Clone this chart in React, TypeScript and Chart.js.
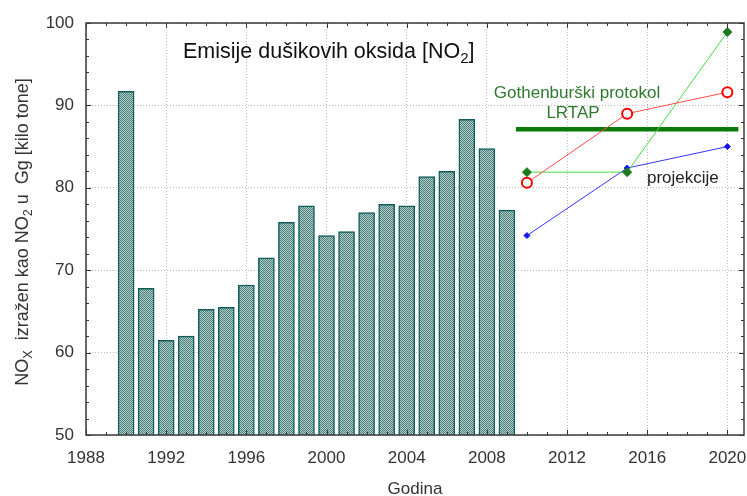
import React, { useEffect, useRef } from "react";
import { Chart, registerables } from "chart.js";

Chart.register(...registerables);

// ---- data ----
const histYears = [1990, 1991, 1992, 1993, 1994, 1995, 1996, 1997, 1998, 1999, 2000, 2001, 2002, 2003, 2004, 2005, 2006, 2007, 2008, 2009];
const histValues = [91.7, 67.8, 61.5, 62.0, 65.25, 65.5, 68.2, 71.5, 75.8, 77.8, 74.2, 74.7, 77.0, 78.0, 77.8, 81.35, 82.0, 88.3, 84.75, 77.3];
const projYears = [2010, 2015, 2020];
const projRed = [80.6, 89.0, 91.6];
const projGreen = [81.9, 81.9, 98.9];
const projBlue = [74.2, 82.4, 85.0];
const protocolYears = [2009.45, 2020.55];
const protocolLevel = 87.1;
const xTicks = [1988, 1992, 1996, 2000, 2004, 2008, 2012, 2016, 2020];
const yTicks = [50, 60, 70, 80, 90, 100];
const xMinorStep = 1;
const yMinorStep = 2;

const FONT = '"Liberation Sans", Arial, sans-serif';

type Part = { t: string; sub?: boolean };

function drawRich(ctx: CanvasRenderingContext2D, parts: Part[], x: number, y: number, size: number, align: "left" | "center") {
  const widths = parts.map((p) => {
    ctx.font = `${p.sub ? size * 0.7 : size}px ${FONT}`;
    return ctx.measureText(p.t).width;
  });
  const total = widths.reduce((a, b) => a + b, 0);
  let cx = align === "center" ? x - total / 2 : x;
  ctx.textAlign = "left";
  ctx.textBaseline = "alphabetic";
  parts.forEach((p, i) => {
    ctx.font = `${p.sub ? size * 0.7 : size}px ${FONT}`;
    ctx.fillText(p.t, cx, p.sub ? y + size * 0.22 : y);
    cx += widths[i];
  });
}

const framePlugin = {
  id: "frameAndText",
  afterDatasetsDraw(chart: any) {
    const { ctx, chartArea: a, scales } = chart;
    const xs = scales.x;
    const ys = scales.y;
    ctx.save();
    ctx.strokeStyle = "#333";
    ctx.lineWidth = 1;
    ctx.beginPath();
    for (let v = Math.ceil(xs.min); v <= xs.max; v += xMinorStep) {
      const px = Math.round(xs.getPixelForValue(v)) + 0.5;
      const len = v % 4 === 0 ? 5 : 3;
      ctx.moveTo(px, a.bottom);
      ctx.lineTo(px, a.bottom - len);
      ctx.moveTo(px, a.top);
      ctx.lineTo(px, a.top + len);
    }
    for (let v = ys.min; v <= ys.max; v += yMinorStep) {
      const py = Math.round(ys.getPixelForValue(v)) + 0.5;
      const len = v % 10 === 0 ? 5 : 3;
      ctx.moveTo(a.left, py);
      ctx.lineTo(a.left + len, py);
      ctx.moveTo(a.right, py);
      ctx.lineTo(a.right - len, py);
    }
    ctx.stroke();
    ctx.strokeStyle = "#3a3a3a";
    ctx.lineWidth = 1.5;
    ctx.strokeRect(a.left, a.top, a.right - a.left, a.bottom - a.top);
    ctx.restore();
  },
  afterDraw(chart: any) {
    const { ctx, chartArea: a } = chart;
    ctx.save();
    ctx.fillStyle = "#111";
    drawRich(ctx, [{ t: "Emisije dušikovih oksida [NO" }, { t: "2", sub: true }, { t: "]" }], 183, 58, 21.5, "left");
    ctx.fillStyle = "#2f7a2f";
    drawRich(ctx, [{ t: "Gothenburški protokol" }], 577, 98, 17, "center");
    drawRich(ctx, [{ t: "LRTAP" }], 573, 118, 17, "center");
    ctx.fillStyle = "#222";
    drawRich(ctx, [{ t: "projekcije" }], 647, 183, 17, "left");
    ctx.fillStyle = "#333";
    drawRich(ctx, [{ t: "Godina" }], (a.left + a.right) / 2, 494, 17, "center");
    ctx.translate(28, (a.top + a.bottom) / 2 + 3);
    ctx.rotate(-Math.PI / 2);
    drawRich(
      ctx,
      [
        { t: "NO" },
        { t: "X", sub: true },
        { t: "  izražen kao NO" },
        { t: "2", sub: true },
        { t: " u  Gg [kilo tone]" },
      ],
      0,
      0,
      18,
      "center"
    );
    ctx.restore();
  },
};

function makePattern(): CanvasPattern | string {
  const c = document.createElement("canvas");
  c.width = 2;
  c.height = 2;
  const g = c.getContext("2d");
  if (!g) return "#7fa5a2";
  g.fillStyle = "#b6ccc8";
  g.fillRect(0, 0, 2, 2);
  g.fillStyle = "#4a807c";
  g.fillRect(0, 0, 1, 1);
  g.fillRect(1, 1, 1, 1);
  const p = g.createPattern(c, "repeat");
  return p || "#7fa5a2";
}

export default function App() {
  const ref = useRef<HTMLCanvasElement | null>(null);

  useEffect(() => {
    document.body.style.margin = "0";
    const canvas = ref.current;
    if (!canvas) return;
    const pattern = makePattern();
    const chart = new Chart(canvas, {
      type: "bar",
      data: {
        datasets: [
          {
            type: "bar",
            data: histYears.map((x, i) => ({ x, y: histValues[i] })),
            backgroundColor: pattern as any,
            borderColor: "#0d5e5b",
            borderWidth: 1.5,
            barThickness: 16,
            order: 5,
          } as any,
          {
            type: "line",
            data: protocolYears.map((x) => ({ x, y: protocolLevel })),
            borderColor: "#0a7a0a",
            borderWidth: 4.5,
            pointRadius: 0,
            order: 4,
          },
          {
            type: "line",
            data: projYears.map((x, i) => ({ x, y: projBlue[i] })),
            borderColor: "#3535ff",
            borderWidth: 1,
            pointStyle: "rectRot",
            pointRadius: 3,
            pointBackgroundColor: "#1515ee",
            pointBorderColor: "#1515ee",
            order: 3,
          },
          {
            type: "line",
            data: projYears.map((x, i) => ({ x, y: projGreen[i] })),
            borderColor: "#44dd44",
            borderWidth: 1,
            pointStyle: "rectRot",
            pointRadius: 4.5,
            pointBackgroundColor: "#1c7a1c",
            pointBorderColor: "#1c7a1c",
            order: 2,
          },
          {
            type: "line",
            data: projYears.map((x, i) => ({ x, y: projRed[i] })),
            borderColor: "#ff4a4a",
            borderWidth: 1,
            pointStyle: "circle",
            pointRadius: 5,
            pointBorderWidth: 2,
            pointBackgroundColor: "#ffffff",
            pointBorderColor: "#ff0000",
            order: 1,
          },
        ],
      },
      options: {
        responsive: false,
        animation: false,
        events: [],
        layout: { autoPadding: false, padding: { left: 0, right: 3, top: 23, bottom: 0 } },
        plugins: { legend: { display: false }, tooltip: { enabled: false } },
        scales: {
          x: {
            type: "linear",
            min: 1988,
            max: 2020.83,
            offset: false,
            grid: { offset: false, color: "#b8b8b8", lineWidth: 1, drawTicks: false },
            border: { display: false, dash: [1, 2] },
            afterBuildTicks: (s: any) => {
              s.ticks = xTicks.map((v) => ({ value: v }));
            },
            afterFit: (s: any) => {
              s.height = 61;
              s.paddingLeft = 0;
              s.paddingRight = 0;
            },
            ticks: {
              padding: 13,
              color: "#333",
              font: { family: FONT, size: 17 },
              callback: (v: any) => String(v),
              maxRotation: 0,
              autoSkip: false,
            },
          },
          y: {
            type: "linear",
            min: 50,
            max: 100,
            grid: { color: "#b8b8b8", lineWidth: 1, drawTicks: false },
            border: { display: false, dash: [1, 2] },
            afterBuildTicks: (s: any) => {
              s.ticks = yTicks.map((v) => ({ value: v }));
            },
            afterFit: (s: any) => {
              s.width = 86;
              s.paddingTop = 0;
              s.paddingBottom = 0;
            },
            ticks: {
              padding: 12,
              color: "#333",
              font: { family: FONT, size: 17 },
              callback: (v: any) => String(v),
            },
          },
        },
      } as any,
      plugins: [framePlugin],
    });
    return () => chart.destroy();
  }, []);

  return (
    <div style={{ position: "absolute", left: 0, top: 0, width: 747, height: 496 }}>
      <canvas ref={ref} width={747} height={496} style={{ display: "block" }} />
    </div>
  );
}
